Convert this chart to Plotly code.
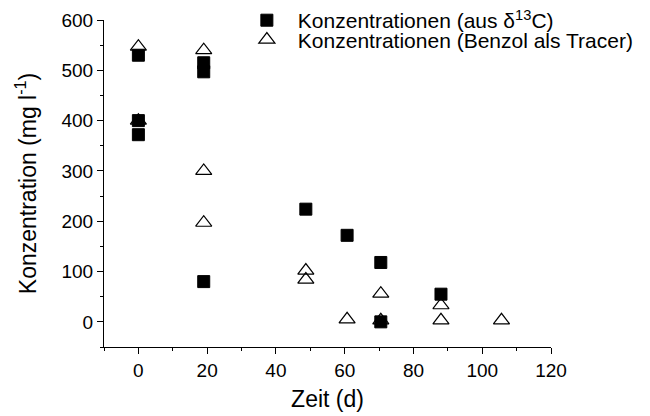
import plotly.graph_objects as go

# Konzentrationen aus delta13C (filled squares)
zeit_c13 = [0, 0, 0, 19, 19, 19, 48.7, 60.7, 70.5, 70.5, 88]
konz_c13 = [530, 400, 372, 515, 497, 80, 224, 172, 118, 0, 55]

# Konzentrationen mit Benzol als Tracer (open triangles)
zeit_benzol = [0, 0, 19, 19, 19, 48.7, 48.7, 60.7, 70.5, 70.5, 88, 88, 105.6]
konz_benzol = [547, 400, 540, 300, 197, 102, 84, 5, 56, 3, 33, 3, 3]

x_ticks = [0, 20, 40, 60, 80, 100, 120]
y_ticks = [0, 100, 200, 300, 400, 500, 600]

fig = go.Figure()
fig.add_trace(go.Scatter(
    x=zeit_c13, y=konz_c13, mode='markers',
    name='Konzentrationen (aus δ<sup>13</sup>C)', legend='legend', showlegend=True,
    marker=dict(symbol='square', size=12, color='black', line=dict(color='black', width=1))
))
fig.add_trace(go.Scatter(
    x=zeit_benzol, y=konz_benzol, mode='markers',
    name='Konzentrationen (Benzol als Tracer)', legend='legend2', showlegend=True,
    marker=dict(symbol='triangle-up-open', size=14, color='black', line=dict(width=1.2))
))

axis_font = dict(family='Liberation Sans, Arial, sans-serif', size=19, color='black')
leg = dict(x=0.295, xanchor='left', bgcolor='rgba(0,0,0,0)',
           font=dict(size=21), itemwidth=52, itemsizing='trace')

fig.update_layout(
    width=650, height=416, showlegend=True,
    margin=dict(l=96, r=107, t=12, b=77, autoexpand=False),
    plot_bgcolor='white', paper_bgcolor='white',
    font=axis_font,
    legend=dict(leg, y=1.061, yanchor='top'),
    legend2=dict(leg, y=0.939, yanchor='middle'),
    xaxis=dict(range=[-10, 120], tickvals=x_ticks, ticks='outside', ticklen=6,
               tickcolor='black', showline=True, linecolor='black', linewidth=1.2,
               showgrid=False, zeroline=False, automargin=False,
               minor=dict(tickvals=[-10, 10, 30, 50, 70, 90, 110], ticks='outside',
                          ticklen=3, tickcolor='black'),
               title=dict(text='Zeit (d)', standoff=10)),
    yaxis=dict(range=[-50, 600], tickvals=y_ticks, ticks='outside', ticklen=6,
               tickcolor='black', showline=True, linecolor='black', linewidth=1.2,
               showgrid=False, zeroline=False, automargin=False,
               minor=dict(tickvals=[-50, 50, 150, 250, 350, 450, 550], ticks='outside',
                          ticklen=3, tickcolor='black'),
               title=dict(text='Konzentration (mg l<sup>-1</sup>)', standoff=18)),
)

fig.write_html("out.html")
